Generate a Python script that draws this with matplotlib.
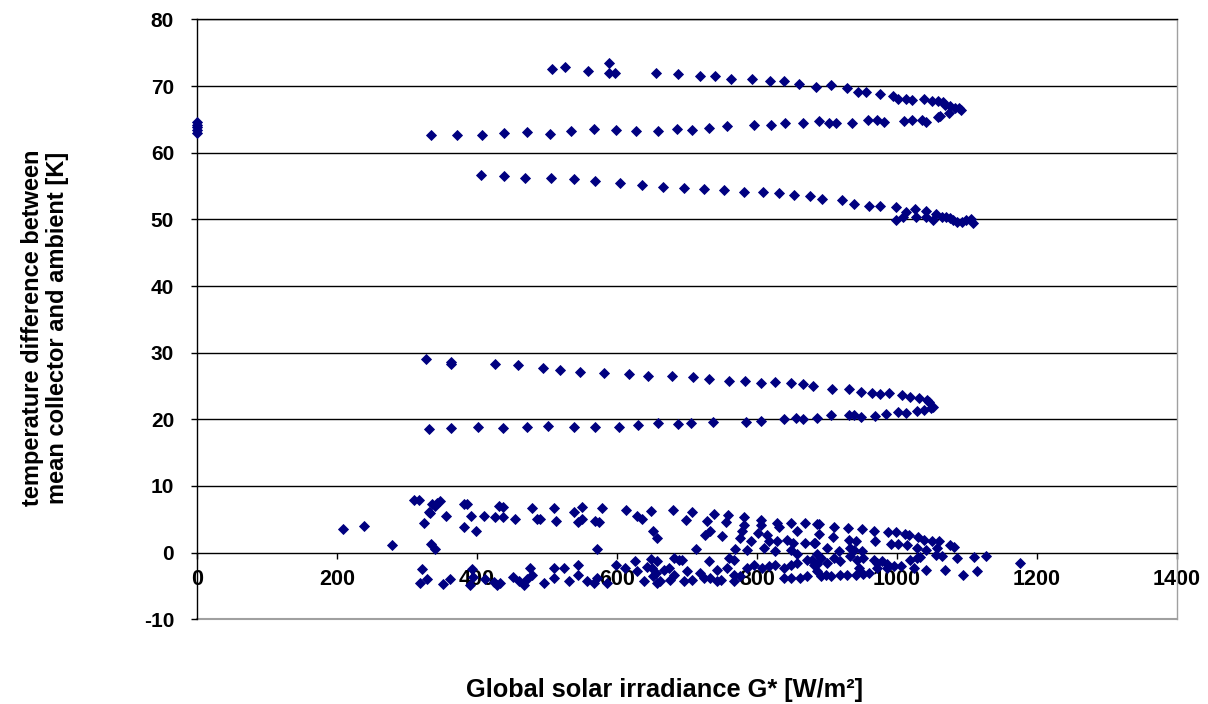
import matplotlib
matplotlib.use("Agg")
import matplotlib.pyplot as plt

plt.rcParams['font.family'] = ['Liberation Sans', 'DejaVu Sans']

# ---------------- data ----------------
# points at zero irradiance
x_zero = [0, 0, 0, 0, 0]
y_zero = [63.0, 63.4, 63.8, 64.2, 64.6]

# high temperature branch (afternoon, ~73 -> 66.5)
x_hi_a = [507, 526, 558, 589, 589, 597, 655, 687, 718, 740, 763, 793, 819, 838, 860,
          884, 906, 929, 944, 956, 975, 994, 1001, 1013, 1021, 1039, 1050, 1059, 1065,
          1069, 1076, 1083, 1088, 1091]
y_hi_a = [72.55, 72.9, 72.25, 73.4, 71.9, 71.9, 72.0, 71.85, 71.5, 71.5, 71.05, 71.05,
          70.7, 70.7, 70.25, 69.9, 70.15, 69.65, 69.05, 69.05, 68.75, 68.5, 68.1, 68.0,
          67.85, 68.0, 67.8, 67.7, 67.6, 67.15, 66.95, 66.65, 66.65, 66.4]

# high temperature branch (morning, ~63 -> 66)
x_hi_m = [334, 371, 407, 439, 471, 504, 534, 567, 598, 627, 659, 686, 707, 731, 757,
          795, 820, 840, 866, 889, 903, 913, 936, 959, 972, 982, 1010, 1022, 1036, 1041,
          1059, 1062, 1074]
y_hi_m = [62.7, 62.7, 62.7, 62.9, 63.05, 62.85, 63.2, 63.55, 63.35, 63.2, 63.2, 63.5,
          63.4, 63.65, 63.95, 64.1, 64.1, 64.45, 64.4, 64.75, 64.4, 64.4, 64.4, 64.9,
          64.9, 64.65, 64.75, 64.9, 64.9, 64.6, 65.3, 65.5, 65.9]

# medium-high branch (~56.6 -> 49.5)
x_mh = [406, 439, 469, 505, 538, 569, 604, 635, 665, 695, 724, 753, 781, 809, 832,
        853, 876, 893, 921, 939, 960, 976, 998, 999, 1008, 1013, 1026, 1027, 1041,
        1042, 1052, 1056, 1064, 1070, 1075, 1080, 1086, 1093, 1098, 1105, 1108]
y_mh = [56.6, 56.45, 56.2, 56.2, 56.0, 55.7, 55.5, 55.2, 54.9, 54.75, 54.55, 54.35,
        54.1, 54.1, 53.95, 53.65, 53.5, 53.0, 52.85, 52.3, 52.0, 52.0, 51.8, 49.9,
        50.4, 51.15, 51.5, 50.4, 51.3, 50.4, 49.9, 50.8, 50.4, 50.3, 50.15, 49.9,
        49.65, 49.65, 49.9, 50.0, 49.4]

# low branch, afternoon (~29 -> 22.5)
x_lo_a = [327, 363, 363, 425, 459, 494, 519, 547, 582, 617, 644, 678, 708, 732, 760,
          783, 805, 825, 848, 866, 880, 907, 931, 948, 964, 976, 989, 1007, 1019, 1032,
          1043, 1045]
y_lo_a = [29.05, 28.55, 28.3, 28.3, 28.15, 27.65, 27.4, 27.05, 26.95, 26.75, 26.45,
          26.55, 26.3, 26.0, 25.7, 25.7, 25.4, 25.55, 25.4, 25.25, 24.95, 24.6, 24.5,
          24.05, 23.9, 23.8, 23.9, 23.6, 23.4, 23.25, 22.9, 22.55]

# low branch, morning (~18.5 -> 22)
x_lo_m = [332, 363, 402, 437, 472, 502, 538, 568, 603, 630, 659, 687, 706, 737, 784,
          806, 839, 856, 866, 886, 906, 931, 938, 948, 968, 984, 1001, 1013, 1028,
          1038, 1048, 1052]
y_lo_m = [18.5, 18.65, 18.8, 18.65, 18.8, 19.0, 18.9, 18.8, 18.9, 19.1, 19.4, 19.25,
          19.4, 19.6, 19.6, 19.75, 20.05, 20.15, 20.05, 20.15, 20.6, 20.6, 20.6, 20.3,
          20.5, 20.8, 21.15, 21.0, 21.25, 21.4, 21.75, 21.9]

# near-ambient operation, above zero
x_amb_up = [209, 239, 279, 310, 317, 324, 331, 333, 336, 340, 343, 347, 355, 334, 340,
            381, 385, 391, 382, 399, 410, 425, 431,
            437, 437, 454, 479, 486, 490, 510, 513, 539, 550, 544, 550, 568, 574, 579,
            613, 629, 635, 649, 651, 657, 571,
            680, 707, 699, 738, 759, 728, 755, 726, 733, 750, 713, 782, 805, 781, 779,
            776, 791, 802, 805, 814, 829, 831, 848, 869, 886, 857, 817, 829, 843, 852,
            869, 883, 769, 786, 810, 826, 848,
            888, 888, 910, 909, 930, 931, 941, 950, 967, 969, 987, 998, 991, 1002, 1012,
            1017, 1014, 1030, 1038, 1050, 1060, 1057, 1076, 1081, 881, 900, 917, 938,
            950, 933, 1029, 1041]
y_amb_up = [3.6, 4.05, 1.1, 7.85, 7.95, 4.45, 6.1, 5.95, 7.3, 6.95, 7.45, 7.8, 5.45, 1.3,
            0.55, 7.35, 7.3, 5.45, 3.8, 3.3, 5.45, 5.3, 6.95,
            6.85, 5.35, 5.1, 6.7, 5.0, 5.0, 6.7, 4.7, 6.05, 6.85, 4.55, 5.0, 4.7, 4.55,
            6.7, 6.35, 5.55, 5.0, 6.3, 3.2, 2.2, 0.6,
            6.35, 6.1, 4.85, 5.8, 5.7, 4.7, 4.55, 2.7, 3.2, 2.55, 0.6, 5.3, 4.95, 4.2,
            3.2, 2.2, 1.7, 2.95, 4.1, 2.7, 4.45, 3.8, 4.45, 4.45, 4.3, 3.3, 1.7, 1.7,
            1.95, 1.45, 1.45, 1.45, 0.6, 0.45, 0.7, 0.3, 0.45,
            4.3, 2.8, 3.8, 2.3, 3.7, 1.95, 1.8, 3.6, 3.3, 1.8, 3.1, 3.1, 1.3, 1.3, 2.8,
            2.6, 1.2, 2.3, 1.95, 1.7, 1.7, 0.7, 1.2, 0.8, 1.45, 0.7, 0.3, 0.45, 0.2, 0.7,
            0.7, 0.45]

# near-ambient operation, below zero
x_amb_lo = [321, 318, 329, 352, 362, 393, 394, 390, 412, 424, 429,
            433, 452, 460, 467, 476, 479, 471, 495, 510, 510, 524, 531, 544, 544, 557,
            571, 567, 598, 612, 625, 629, 643, 648, 652, 638, 657, 586,
            657, 681, 688, 693, 732, 760, 767, 650, 655, 667, 674, 681, 700, 707, 719,
            724, 733, 743, 748, 757, 767, 776, 786, 795, 807, 817, 826, 838, 848, 857,
            871, 881, 662, 676, 695, 743, 767, 838, 848, 862, 871, 886, 857, 886,
            879, 891, 900, 886, 910, 919, 933, 943, 952, 967, 971, 979, 986, 995, 1005,
            1019, 1029, 1033, 1055, 1064, 1086, 1110, 891, 898, 905, 919, 929, 941, 952,
            960, 1024, 1041, 1069, 1094, 1114, 986, 971, 945, 1127, 1176]
y_amb_lo = [-2.45, -4.55, -3.9, -4.7, -3.9, -2.45, -3.7, -4.8, -3.9, -4.4, -4.8,
            -4.55, -3.7, -4.3, -4.8, -2.3, -3.4, -3.9, -4.55, -2.3, -3.8, -2.3, -4.2,
            -1.9, -3.3, -4.2, -3.8, -4.55, -1.9, -2.3, -1.2, -2.8, -2.15, -0.95, -3.55,
            -4.3, -4.55, -4.55,
            -1.3, -0.8, -1.15, -1.05, -1.2, -0.8, -1.05, -2.3, -3.05, -2.55, -2.3, -3.3,
            -2.8, -4.05, -3.05, -3.8, -3.8, -2.55, -4.05, -2.3, -3.3, -3.55, -2.3, -1.8,
            -2.3, -2.05, -1.8, -2.3, -1.8, -1.55, -1.05, -1.8, -4.3, -4.05, -4.3, -4.3,
            -4.3, -3.8, -3.8, -3.8, -3.55, -2.8, -0.15, -0.15,
            -1.05, -0.8, -1.55, -1.7, -0.8, -1.3, -0.55, -1.05, -0.8, -1.05, -1.55,
            -1.3, -1.7, -2.05, -2.05, -1.05, -0.8, -0.7, -0.3, -0.55, -0.8, -0.7, -3.55,
            -3.4, -3.55, -3.4, -3.4, -3.4, -3.2, -3.05, -2.3, -2.55, -2.55, -3.4, -2.8,
            -2.3, -2.3, -2.3, -0.55, -1.55]

x_ticks = [0, 200, 400, 600, 800, 1000, 1200, 1400]
y_ticks = [-10, 0, 10, 20, 30, 40, 50, 60, 70, 80]

xlabel = "Global solar irradiance G* [W/m²]"
ylabel = "temperature difference between\nmean collector and ambient [K]"

# ---------------- plot ----------------
W, H = 1208, 704
fig = plt.figure(figsize=(W / 100, H / 100), dpi=100)
left, right, top, bottom = 197, 1177, 19.4, 619.3
ax = fig.add_axes([left / W, 1 - bottom / H, (right - left) / W, (bottom - top) / H])

navy = '#000080'
for xs, ys in [(x_zero, y_zero), (x_hi_a, y_hi_a), (x_hi_m, y_hi_m), (x_mh, y_mh),
               (x_lo_a, y_lo_a), (x_lo_m, y_lo_m), (x_amb_up, y_amb_up),
               (x_amb_lo, y_amb_lo)]:
    ax.plot(xs, ys, linestyle='none', marker='D', ms=4.7, color=navy,
            markeredgecolor=navy, markeredgewidth=0.6, clip_on=False, zorder=3)

ax.set_xlim(0, 1400)
ax.set_ylim(-10, 80)

# spines first (moving a spine resets tick formatting)
ax.spines['bottom'].set_position(('data', 0))
ax.spines['bottom'].set_color('black')
ax.spines['bottom'].set_linewidth(1.0)
ax.spines['left'].set_color('black')
ax.spines['left'].set_linewidth(1.0)
ax.spines['right'].set_color('#a0a0a0')
ax.spines['top'].set_color('black')
ax.spines['right'].set_linewidth(1.0)
ax.spines['top'].set_linewidth(1.0)
ax.axhline(-10, color='#a0a0a0', lw=1.5, zorder=1, clip_on=False)

ax.set_xticks(x_ticks)
ax.set_yticks(y_ticks)
ax.set_xticklabels([str(v) for v in x_ticks], fontsize=15.5, fontweight='bold')
ax.set_yticklabels([str(v) for v in y_ticks], fontsize=15, fontweight='bold')

for v in y_ticks[2:]:
    ax.axhline(v, color='black', lw=1.0, zorder=1)

ax.tick_params(axis='x', direction='out', length=4.5, width=1, pad=7, colors='black')
ax.tick_params(axis='y', direction='out', length=4.5, width=1, pad=12, colors='black')

fig.text(665 / W, 1 - 690 / H, xlabel, fontsize=18.3, fontweight='bold',
         ha='center', va='center')
fig.text(45 / W, 1 - 328 / H, ylabel, fontsize=17, fontweight='bold',
         ha='center', va='center', rotation=90, multialignment='center',
         linespacing=1.1)

fig.savefig('out.png', dpi=100)
